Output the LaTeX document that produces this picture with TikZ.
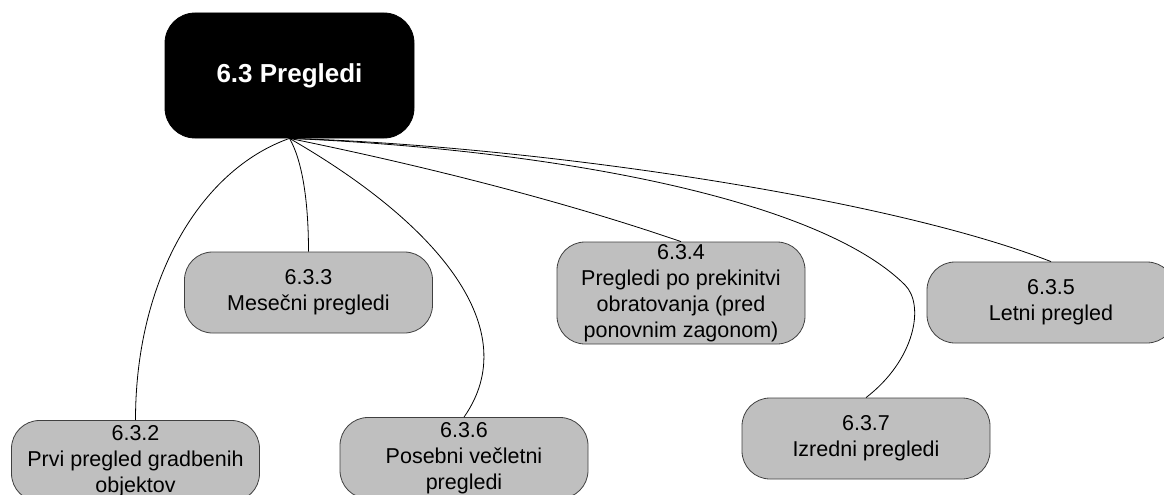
\documentclass[tikz,border=0pt]{standalone}
\usepackage{fontspec}
\setmainfont{Liberation Sans}
\begin{document}
\begin{tikzpicture}[x=1pt,y=-1pt,
  rootbox/.style={draw=black, fill=black, rounded corners=30pt, line width=0.8pt,
    minimum width=249pt, minimum height=125pt, inner sep=0pt,
    text=white, font=\fontsize{26}{31}\selectfont\bfseries},
  topicbox/.style={draw=black!75, fill=black!25, rounded corners=28pt, line width=0.8pt,
    minimum width=248pt, minimum height=81pt, inner sep=0pt, align=center,
    font=\fontsize{21.5}{26}\selectfont},
  link/.style={draw=black, line width=0.8pt}]
\useasboundingbox (0,0) rectangle (1164,495);
\clip (0,0) rectangle (1164,495);

% central topic
\node[rootbox] (root) at (289.5,75.5) {6.3 Pregledi};

% sub-topics
\node[topicbox] (c2) at (135.5,461) {6.3.2\\Prvi pregled gradbenih\\objektov};
\node[topicbox] (c3) at (308.5,292.5) {6.3.3\\Mesečni pregledi};
\node[topicbox, minimum height=102pt] (c4) at (681,293) {6.3.4\\Pregledi po prekinitvi\\obratovanja (pred\\ponovnim zagonom)};
\node[topicbox] (c5) at (1051,302.5) {6.3.5\\Letni pregled};
\node[topicbox] (c6) at (464,458) {6.3.6\\Posebni večletni\\pregledi};
\node[topicbox] (c7) at (866,438.5) {6.3.7\\Izredni pregledi};

% curved links from the central topic
\coordinate (bend7) at (905,285);
\draw[link] (root.south) .. controls (200,170) and (135.5,280) .. (c2.north);
\draw[link] (root.south) .. controls (302,160) and (308.5,200) .. (c3.north);
\draw[link] (root.south) .. controls (440,225) and (525,330) .. (c6.north);
\draw[link] (root.south) .. controls (420,165) and (560,200) .. (c4.north);
\draw[link] (root.south) .. controls (560,150) and (820,200) .. (bend7)
                         .. controls (925,305) and (915,360) .. (c7.north);
\draw[link] (root.south) .. controls (520,145) and (880,195) .. (c5.north);
\end{tikzpicture}
\end{document}
